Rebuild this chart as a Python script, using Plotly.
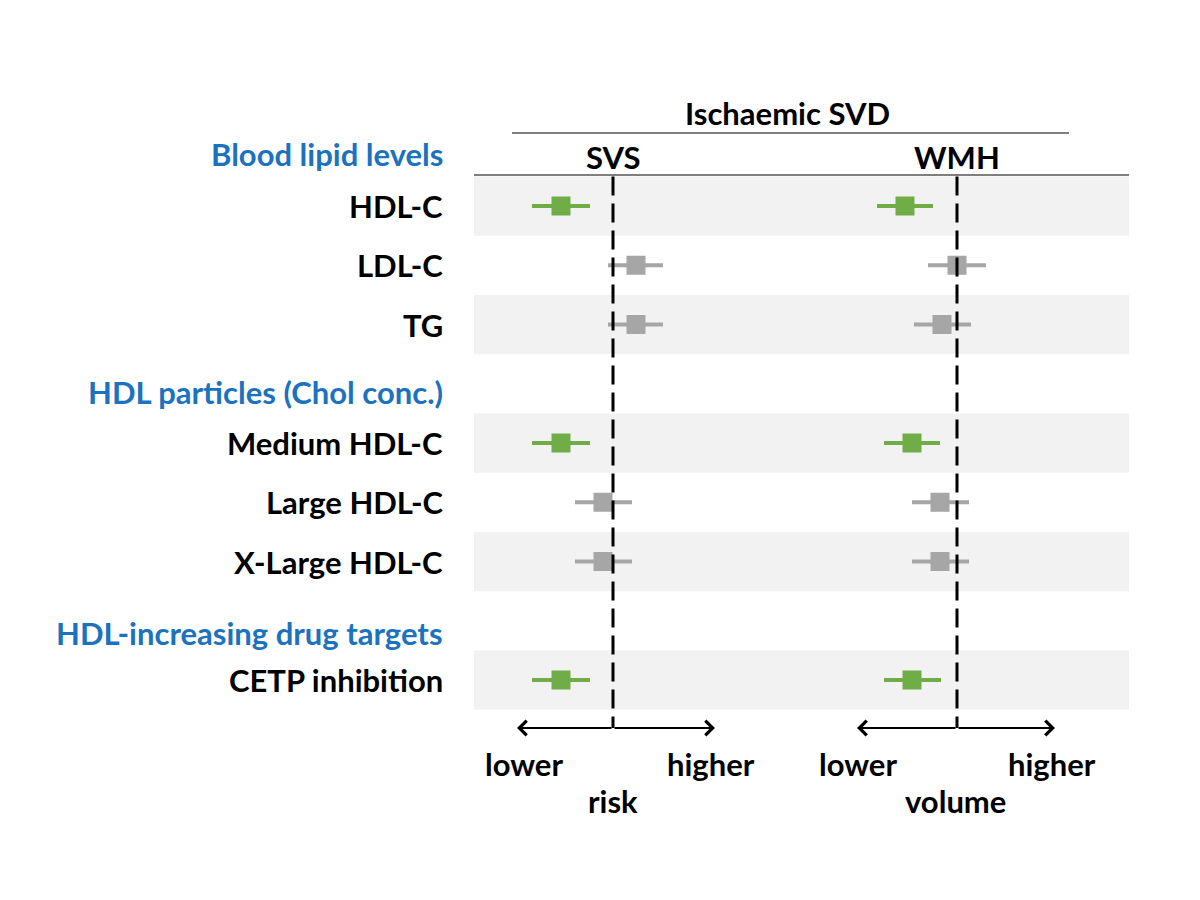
import plotly.graph_objects as go

# ---------------- data ----------------
row_labels = ["HDL-C", "LDL-C", "TG", "Medium HDL-C", "Large HDL-C", "X-Large HDL-C", "CETP inhibition"]
row_index = [0, 1, 2, 4, 5, 6, 8]          # vertical slot of each row
shaded_rows = [0, 2, 4, 6, 8]              # slots with grey background band
significant = [True, False, False, True, False, False, True]

header_labels = ["Blood lipid levels", "HDL particles (Chol conc.)", "HDL-increasing drug targets"]
header_index = [-0.87, 3.14, 7.2]

# SVS (risk), arbitrary schematic units, 0 = null
svs_est = [-0.52, 0.23, 0.23, -0.52, -0.10, -0.10, -0.52]
svs_lo = [-0.81, -0.05, -0.05, -0.81, -0.38, -0.38, -0.81]
svs_hi = [-0.23, 0.50, 0.50, -0.23, 0.19, 0.19, -0.23]

# WMH (volume)
wmh_est = [-0.52, 0.00, -0.15, -0.45, -0.17, -0.17, -0.45]
wmh_lo = [-0.80, -0.29, -0.43, -0.73, -0.45, -0.45, -0.73]
wmh_hi = [-0.24, 0.29, 0.14, -0.17, 0.12, 0.12, -0.16]

GREEN = "#70AD47"
GREY = "#A6A6A6"
BLUE = "#1B72BE"
BAND = "#F2F2F2"
FONT = "Lato"
FS = 31

W, H = 1200, 900
OFF = 8  # page body margin offset
def px(v):
    return (v - OFF) / W
def py(v):
    return 1 - (v - OFF) / H

# row slot i -> pixel y = 206 + 59.25*i
Y0, DY = 206.0 - OFF, 59.25
y_range = [(H - Y0) / DY, (0 - Y0) / DY]
def yi(pix):
    return (pix - OFF - Y0) / DY
# SVS: pixel x = 613 + 100*x ; WMH: pixel x = 957 + 100*x
c1, c2 = 613 - OFF, 957 - OFF
x1_range = [(0 - c1) / 100, (W - c1) / 100]
x2_range = [(0 - c2) / 100, (W - c2) / 100]

colors = [GREEN if s else GREY for s in significant]

fig = go.Figure()
for est, lo, hi, xa in [(svs_est, svs_lo, svs_hi, "x"), (wmh_est, wmh_lo, wmh_hi, "x2")]:
    for want in [False, True]:
        gx = [e for e, s in zip(est, significant) if s == want]
        gy = [r for r, s in zip(row_index, significant) if s == want]
        glo = [e - l for e, l, s in zip(est, lo, significant) if s == want]
        ghi = [h - e for e, h, s in zip(est, hi, significant) if s == want]
        col = GREEN if want else GREY
        fig.add_trace(go.Scatter(
            x=gx, y=gy, xaxis=xa, yaxis="y", mode="markers",
            marker=dict(symbol="square", size=17, color=col, line=dict(color=col, width=2)),
            error_x=dict(type="data", symmetric=False, array=ghi, arrayminus=glo,
                         thickness=4, width=0, color=col),
            showlegend=False, hoverinfo="skip",
        ))

shapes = []
for r in shaded_rows:
    shapes.append(dict(type="rect", xref="paper", yref="y", x0=px(474), x1=px(1129),
                       y0=r - 0.5, y1=r + 0.5, fillcolor=BAND, line=dict(width=0), layer="below"))
# header lines
shapes.append(dict(type="line", xref="paper", yref="paper", x0=px(512), x1=px(1069), y0=py(133), y1=py(133),
                   line=dict(color="black", width=1.2)))
shapes.append(dict(type="line", xref="paper", yref="paper", x0=px(474), x1=px(1129), y0=py(175), y1=py(175),
                   line=dict(color="black", width=1.2)))
arrow_y = yi(728)
for xa in ["x", "x2"]:
    shapes.append(dict(type="line", xref=xa, yref="y", x0=0, x1=0, y0=-0.5, y1=arrow_y,
                       line=dict(color="black", width=3, dash="19px,8px"), layer="above"))

def bold(size=FS, color="black"):
    return dict(family=FONT, size=size, color=color, weight="bold")

annotations = []
for lab, r in zip(row_labels, row_index):
    annotations.append(dict(text=lab, xref="paper", yref="y", x=px(445), y=r, xanchor="right", yanchor="middle",
                            showarrow=False, font=bold()))
for lab, r in zip(header_labels, header_index):
    annotations.append(dict(text=lab, xref="paper", yref="y", x=px(445), y=r, xanchor="right", yanchor="middle",
                            showarrow=False, font=bold(color=BLUE)))

annotations.append(dict(text="Ischaemic SVD", xref="paper", yref="paper", x=px(787), y=py(113),
                        xanchor="center", yanchor="middle", showarrow=False, font=bold()))
title_y = yi(157)
for xa, t in [("x", "SVS"), ("x2", "WMH")]:
    annotations.append(dict(text=t, xref=xa, yref="y", x=0, y=title_y, xanchor="center", yanchor="middle",
                            showarrow=False, font=bold()))

# direction arrows
for xa, left, right in [("x", -0.96, 1.02), ("x2", -1.0, 0.98)]:
    for tip in [left, right]:
        annotations.append(dict(xref=xa, yref="y", axref=xa, ayref="y", x=tip, y=arrow_y, ax=0, ay=arrow_y,
                                text="", showarrow=True, arrowhead=4, arrowsize=1.3, arrowwidth=2.2,
                                arrowcolor="black", standoff=0, startstandoff=0))

low_y = yi(764)
mid_y = yi(801)
for xa, lx, hx, mx, mt in [("x", -0.89, 0.98, 0, "risk"), ("x2", -0.99, 0.95, -0.02, "volume")]:
    for tx, tt, yy in [(lx, "lower", low_y), (hx, "higher", low_y), (mx, mt, mid_y)]:
        annotations.append(dict(text=tt, xref=xa, yref="y", x=tx, y=yy, xanchor="center", yanchor="middle",
                                showarrow=False, font=bold()))

axis_common = dict(showgrid=False, zeroline=False, showticklabels=False, showline=False, ticks="")
fig.update_layout(
    width=W, height=H,
    margin=dict(l=0, r=0, t=0, b=0),
    paper_bgcolor="white", plot_bgcolor="white",
    xaxis=dict(range=x1_range, domain=[0, 1], **axis_common),
    xaxis2=dict(range=x2_range, domain=[0, 1], overlaying="x", **axis_common),
    yaxis=dict(range=y_range, domain=[0, 1], **axis_common),
    shapes=shapes, annotations=annotations,
)
fig.write_html("out.html")
